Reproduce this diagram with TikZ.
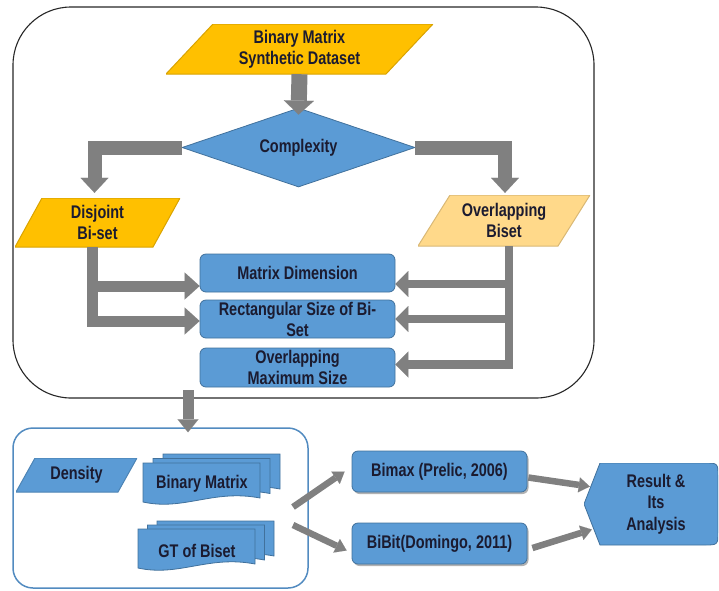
\documentclass[tikz,border=0pt]{standalone}
\usepackage{fontspec}
\setmainfont{Liberation Sans}[FakeStretch=0.79]
\usetikzlibrary{shapes.geometric,arrows.meta,calc,shadows}
\definecolor{blu}{HTML}{5B9BD5}
\definecolor{bluedge}{HTML}{41719C}
\definecolor{org}{HTML}{FFC000}
\definecolor{lorg}{HTML}{FFD98A}
\definecolor{arr}{HTML}{808080}
\definecolor{txt}{HTML}{1B1B30}
\newcommand{\docshape}[4]{%
  \path[docsty] (#1,#2) -- ({#1+#3},#2) -- ({#1+#3},{#2+#4-7})
    .. controls ({#1+0.6*#3},{#2+#4-16}) and ({#1+0.35*#3},{#2+#4+6}) .. (#1,{#2+#4-3}) -- cycle;}
\begin{document}
\begin{tikzpicture}[x=1pt,y=-1pt,
  lbl/.style={font=\fontsize{18.3}{21}\selectfont\bfseries, text=txt, align=center, inner sep=0pt},
  para/.style n args={4}{lbl, minimum width=#1, minimum height=#2,
    path picture={\path[fill=#4, draw=#4!85!black, line width=1pt]
      (path picture bounding box.south west) -- ([xshift=-#3]path picture bounding box.south east)
      -- (path picture bounding box.north east) -- ([xshift=#3]path picture bounding box.north west) -- cycle;}},
  bluebox/.style={lbl, fill=blu, draw=bluedge, line width=0.8pt, rounded corners=6pt, minimum width=195, minimum height=38},
  algbox/.style={bluebox, minimum width=175, minimum height=41,
    drop shadow={shadow xshift=1.5pt, shadow yshift=-2pt, opacity=0.3, fill=black}},
  docsty/.style={fill=blu, draw=bluedge, line width=0.8pt},
  bigarr/.style={draw=arr, line width=16pt, -{Triangle[width=30pt,length=14pt,line width=0.01pt]}},
  elbarr/.style={draw=arr, line width=14pt, line join=miter, -{Triangle[width=28pt,length=15pt,line width=0.01pt]}},
  midarr/.style={draw=arr, line width=11pt, line join=miter, -{Triangle[width=27pt,length=15pt,line width=0.01pt]}},
  rarr/.style={draw=arr, line width=8.5pt, line join=miter, -{Triangle[width=26pt,length=13pt,line width=0.01pt]}},
  downarr/.style={draw=arr, line width=11pt, -{Triangle[width=21pt,length=13pt,line width=0.01pt]}},
  smarr/.style={draw=arr, line width=6.5pt, -{Triangle[width=15pt,length=11pt,line width=0.01pt]}}
]
\useasboundingbox (0,0) rectangle (719,590);

% containers
\node[draw=black!85, line width=1.1pt, rounded corners=58pt, minimum width=581, minimum height=391, inner sep=0pt] (outer) at (303.5,202.5) {};
\node[draw=blu!90!black, line width=1.5pt, rounded corners=20pt, minimum width=295, minimum height=160, inner sep=0pt] (lb) at (160.5,508) {};

% upper flow
\node[para={267}{50}{47pt}{org}] (data) at (299.5,49) {Binary Matrix\\Synthetic Dataset};
\node[lbl, diamond, aspect=2.9, fill=blu, draw=bluedge, line width=0.8pt, minimum width=233, minimum height=79] (cx) at (298.5,147.5) {Complexity};
\node[para={165}{49}{27pt}{org}] (dis) at (97.5,222.5) {Disjoint\\Bi-set};
\node[para={172}{51}{32pt}{lorg}] (ov) at (504,220.5) {Overlapping\\Biset};
\node[bluebox] (md) at (297.5,273) {Matrix Dimension};
\node[bluebox] (rs) at (297.5,319) {Rectangular Size of Bi-\\Set};
\node[bluebox, minimum height=39] (om) at (297.5,367.5) {Overlapping\\Maximum Size};

% lower flow
\node[para={121}{34}{19pt}{blu}] (den) at (76.5,475) {Density};
\docshape{163}{454}{117}{42}
\docshape{153}{458.5}{117}{42}
\docshape{143}{463}{117}{42}
\node[lbl] (bm) at (202,484) {Binary Matrix};
\docshape{157}{521}{117}{42}
\docshape{147.5}{525}{117}{42}
\docshape{138}{529}{117}{42}
\node[lbl] (gt) at (197,551) {GT of Biset};
\node[algbox] (bimax) at (439.5,471.5) {Bimax (Prelic, 2006)};
\node[algbox] (bibit) at (439.5,543.5) {BiBit(Domingo, 2011)};
\node[lbl, font=\fontsize{18.3}{21.5}\selectfont\bfseries, minimum width=134, minimum height=82,
  path picture={\path[fill=blu, draw=bluedge, line width=0.8pt]
    ([xshift=16pt]path picture bounding box.north west)
    -- ([xshift=-14pt]path picture bounding box.north east)
    .. controls (path picture bounding box.north east) .. ([yshift=-14pt]path picture bounding box.north east)
    -- ([yshift=14pt]path picture bounding box.south east)
    .. controls (path picture bounding box.south east) .. ([xshift=-14pt]path picture bounding box.south east)
    -- ([xshift=16pt]path picture bounding box.south west)
    -- (path picture bounding box.west) -- cycle;}] (res) at (651,504)
  {\hspace*{10pt}Result \&\\\hspace*{10pt}Its\\\hspace*{10pt}Analysis};

% connectors (upper)
\draw[bigarr] (data.south) -- ([yshift=-7pt]cx.north);
\draw[elbarr] (cx.west) -| ([xshift=-3pt,yshift=5pt]dis.north);
\draw[elbarr] (cx.east) -| ([xshift=1pt,yshift=2pt]ov.north);
\draw[midarr] ([xshift=-5pt]dis.south) |- ([yshift=-13pt]md.west);
\draw[midarr] ([xshift=-5pt]dis.south) |- ([yshift=-2pt]rs.west);
\draw[rarr] ([xshift=5pt]ov.south) |- ([yshift=-11pt]md.east);
\draw[rarr] ([xshift=5pt]ov.south) |- (rs.east);
\draw[rarr] ([xshift=5pt]ov.south) |- ([yshift=3pt]om.east);

% connectors (lower)
\coordinate (d0) at (188,390);
\draw[downarr] (d0) -- ($(lb.north)+(27.5,5)$);
\coordinate (s1) at (293,507);
\coordinate (s2) at (293,525);
\draw[smarr] (s1) -- ([xshift=-7pt]bimax.west);
\draw[smarr] (s2) -- ([xshift=-5pt,yshift=-7pt]bibit.west);
\draw[smarr] ($(bimax.east)+(1,6)$) -- ($(res.west)+(6,-17.5)$);
\draw[smarr] ($(bibit.east)+(5,4.5)$) -- ($(res.west)+(8,25.5)$);
\end{tikzpicture}
\end{document}
